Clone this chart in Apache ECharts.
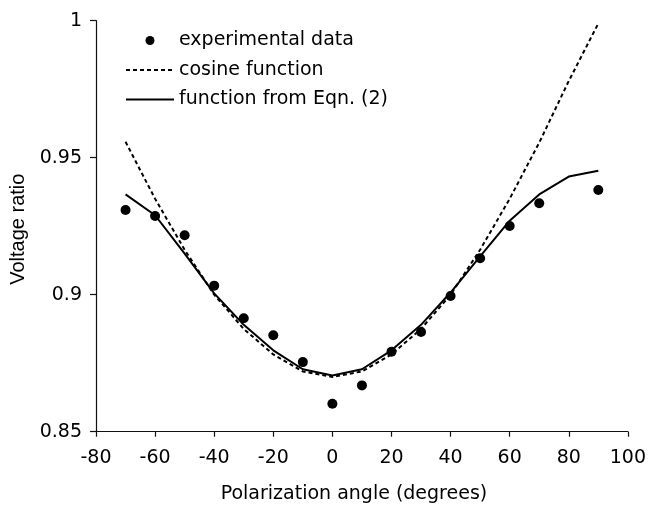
<!DOCTYPE html>
<html>
<head>
<meta charset="utf-8">
<script src="https://cdn.jsdelivr.net/npm/echarts@6/dist/echarts.min.js"></script>
<style>
html,body{margin:0;padding:0;background:#fff;}
#chart{width:649px;height:510px;}
</style>
</head>
<body>
<div id="chart"></div>
<script>
const angles = [-70,-60,-50,-40,-30,-20,-10,0,10,20,30,40,50,60,70,80,90];
const expAngles = [-70,-60,-50,-40,-30,-20,-10,0,10,20,30,40,50,60,70,90];
const expValues = [0.9309,0.9287,0.9217,0.9033,0.8914,0.8852,0.8754,0.8602,0.8669,0.8792,0.8864,0.8995,0.9133,0.9251,0.9334,0.9382];
const cosineValues = [0.9558,0.935,0.9164,0.900,0.8875,0.8782,0.872,0.870,0.872,0.8782,0.8875,0.900,0.9164,0.935,0.9555,0.978,0.999];
const eqnValues = [0.9366,0.929,0.915,0.9005,0.889,0.8797,0.8728,0.8705,0.8728,0.8797,0.889,0.9008,0.914,0.927,0.9366,0.9431,0.9452];
const seriesNames = ['experimental data','cosine function','function from Eqn. (2)'];
const xTitle = 'Polarization angle (degrees)';
const yTitle = 'Voltage ratio';

const FONT = 'DejaVu Sans';
const pair = (xs, ys) => xs.map((x, i) => [x, ys[i]]);

const chart = echarts.init(document.getElementById('chart'), null, {renderer: 'canvas'});
chart.setOption({
  animation: false,
  backgroundColor: '#fff',
  textStyle: {fontFamily: FONT, color: '#000'},
  grid: {left: 96, right: 18.3, top: 20.7, bottom: 78.3, containLabel: false},
  legend: {
    orient: 'vertical',
    left: 125,
    top: 31,
    padding: 0,
    itemWidth: 48,
    itemHeight: 9,
    itemGap: 10.5,
    selectedMode: false,
    textStyle: {fontFamily: FONT, fontSize: 19, color: '#000'},
    data: seriesNames
  },
  xAxis: {
    type: 'value',
    min: -80, max: 100, interval: 20,
    name: xTitle,
    nameLocation: 'middle',
    nameGap: 53,
    nameTextStyle: {fontFamily: FONT, fontSize: 19, color: '#000', padding: [0,16,0,0]},
    axisLine: {onZero: false, lineStyle: {color: '#111', width: 1.2}},
    axisTick: {show: true, inside: false, length: 5, lineStyle: {color: '#111', width: 1.2}},
    axisLabel: {fontFamily: FONT, fontSize: 19, color: '#000', margin: 17},
    splitLine: {show: false}
  },
  yAxis: {
    type: 'value',
    min: 0.85, max: 1, interval: 0.05,
    name: yTitle,
    nameLocation: 'middle',
    nameGap: 56,
    nameTextStyle: {fontFamily: 'Liberation Sans', fontSize: 20, color: '#000', padding: [0,6,0,0]},
    axisLine: {show: true, onZero: false, lineStyle: {color: '#111', width: 1.2}},
    axisTick: {show: true, inside: false, length: 6, lineStyle: {color: '#111', width: 1.2}},
    axisLabel: {fontFamily: FONT, fontSize: 19, color: '#000', margin: 14},
    splitLine: {show: false}
  },
  series: [
    {
      name: seriesNames[0],
      type: 'scatter',
      symbol: 'circle',
      symbolSize: 10,
      itemStyle: {color: '#000', opacity: 1},
      data: pair(expAngles, expValues),
      z: 3
    },
    {
      name: seriesNames[1],
      type: 'line',
      showSymbol: false,
      symbol: 'none',
      lineStyle: {color: '#000', width: 2, type: [4, 3]},
      itemStyle: {color: 'rgba(0,0,0,0)'},
      data: pair(angles, cosineValues),
      z: 2
    },
    {
      name: seriesNames[2],
      type: 'line',
      showSymbol: false,
      symbol: 'none',
      lineStyle: {color: '#000', width: 2},
      itemStyle: {color: 'rgba(0,0,0,0)'},
      data: pair(angles, eqnValues),
      z: 2
    }
  ]
});
</script>
</body>
</html>
